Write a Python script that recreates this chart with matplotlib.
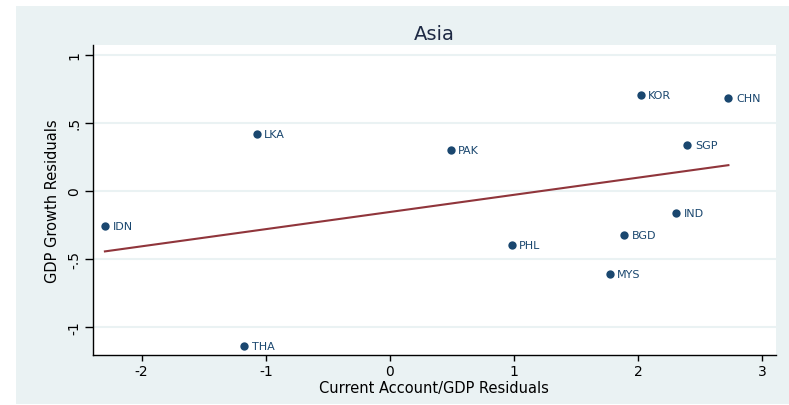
import numpy as np
import matplotlib
matplotlib.use("Agg")
import matplotlib.pyplot as plt
from matplotlib.patches import Rectangle

plt.rcParams['font.family'] = ['DejaVu Sans']
plt.rcParams['axes.unicode_minus'] = False

countries = ["IDN", "LKA", "THA", "PAK", "KOR", "CHN", "SGP", "IND", "BGD", "PHL", "MYS"]
ca_resid = [-2.296, -1.073, -1.175, 0.489, 2.020, 2.727, 2.396, 2.305, 1.889, 0.981, 1.770]
gdp_resid = [-0.257, 0.419, -1.138, 0.301, 0.703, 0.681, 0.338, -0.159, -0.321, -0.399, -0.609]

xticks = [-2, -1, 0, 1, 2, 3]
xticklabels = ["-2", "-1", "0", "1", "2", "3"]
yticks = [-1, -0.5, 0, 0.5, 1]
yticklabels = ["-1", "-.5", "0", ".5", "1"]

W, H = 789, 406
fig = plt.figure(figsize=(W / 100, H / 100), dpi=100, facecolor="white")
fig.patches.append(Rectangle((16 / W, 1 / H), (W - 16) / W, 398 / H,
                             transform=fig.transFigure, facecolor="#EAF2F3",
                             edgecolor="none", zorder=-10))

ax = fig.add_axes([93 / W, 50.3 / H, (775.7 - 93) / W, (355.7 - 46) / H])
ax.set_facecolor("white")

x = np.array(ca_resid)
y = np.array(gdp_resid)
b, a = np.polyfit(x, y, 1)
xs = np.array([x.min(), x.max()])
ax.plot(xs, a + b * xs, color="#90353B", lw=1.5, zorder=2)

ax.scatter(x, y, s=36, color="#1A476F", zorder=3, linewidths=0)
for c, xi, yi in zip(countries, x, y):
    ax.annotate(c, (xi, yi), xytext=(5.5, 0), textcoords="offset points",
                va="center", ha="left", fontsize=8, color="#1A476F")

ax.set_xlim(-2.392, 3.108)
ax.set_ylim(-1.203, 1.071)
ax.set_xticks(xticks)
ax.set_xticklabels(xticklabels)
ax.set_yticks(yticks)
ax.set_yticklabels(yticklabels, rotation=90, va="center")
ax.grid(axis="y", color="#EAF2F3", lw=1.5)
ax.set_axisbelow(True)
for s in ["top", "right"]:
    ax.spines[s].set_visible(False)
for s in ["left", "bottom"]:
    ax.spines[s].set_linewidth(1.0)
ax.tick_params(axis="x", direction="out", length=4, width=1, pad=3, labelsize=10, colors="black")
ax.tick_params(axis="y", direction="out", length=5.5, width=1, pad=3, labelsize=10, colors="black")

ax.set_xlabel("Current Account/GDP Residuals", fontsize=10.5, labelpad=1)
ax.set_ylabel("GDP Growth Residuals", fontsize=10.5, labelpad=5)
fig.text((93 + 775.7) / 2 / W, 1 - 34 / H, "Asia", ha="center", va="center",
         fontsize=14, color="#1E2A44")

fig.savefig("out.png", dpi=100, facecolor=fig.get_facecolor())
